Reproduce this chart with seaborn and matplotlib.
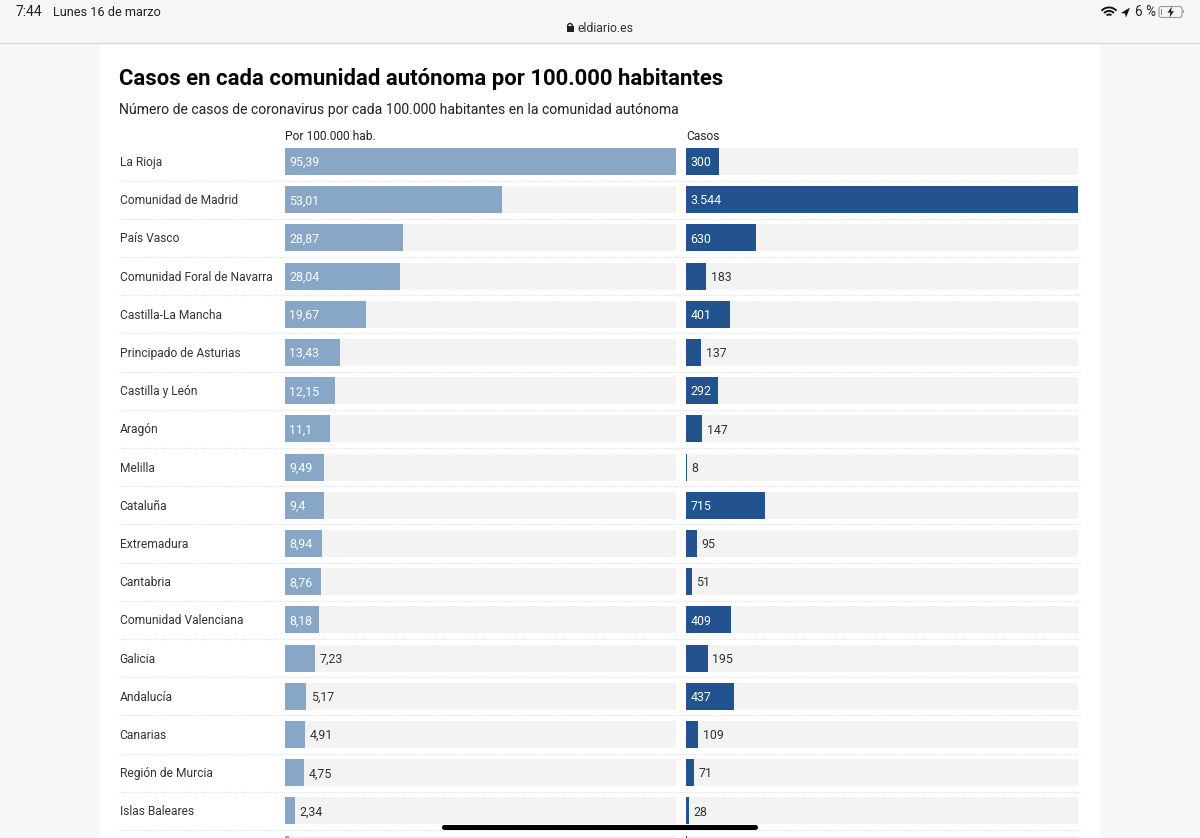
import matplotlib
matplotlib.use("Agg")
import matplotlib.pyplot as plt
from matplotlib.patches import Rectangle, FancyBboxPatch, Polygon, Wedge, Arc
from matplotlib.transforms import ScaledTranslation
import pandas as pd
import seaborn as sns

# the last row is cut off by the screen, its name can't be read
comunidades = ["La Rioja", "Comunidad de Madrid", "País Vasco", "Comunidad Foral de Navarra",
               "Castilla-La Mancha", "Principado de Asturias", "Castilla y León", "Aragón",
               "Melilla", "Cataluña", "Extremadura", "Cantabria", "Comunidad Valenciana",
               "Galicia", "Andalucía", "Canarias", "Región de Murcia", "Islas Baleares", ""]
por_100k = [95.39, 53.01, 28.87, 28.04, 19.67, 13.43, 12.15, 11.1, 9.49, 9.4,
            8.94, 8.76, 8.18, 7.23, 5.17, 4.91, 4.75, 2.34, 1.0]
casos = [300, 3544, 630, 183, 401, 137, 292, 147, 8, 715,
         95, 51, 409, 195, 437, 109, 71, 28, 9]

W, H = 1200, 838
ROW = 38.2
TOP = 142.4


def fmt_dec(v):
    return f"{v:g}".replace(".", ",")


def fmt_miles(v):
    return f"{v:,}".replace(",", ".")


def axes_px(x0, y0, x1, y1, **kw):
    return fig.add_axes([x0 / W, 1 - y1 / H, (x1 - x0) / W, (y1 - y0) / H], **kw)


def draw_column(ax, col, color, fmt, inside_min, header):
    df = pd.DataFrame({"comunidad": comunidades, "valor": col})
    df["tope"] = max(col)
    sns.barplot(data=df, x="tope", y="comunidad", color="#f3f3f3", saturation=1, width=0.707, linewidth=0, ax=ax)
    sns.barplot(data=df, x="valor", y="comunidad", color=color, saturation=1, width=0.707, linewidth=0, ax=ax)
    ax.set_xlim(0, max(col))
    ax.set_ylim(-0.5 + (H - TOP) / ROW, -0.5)
    ax.set_xlabel("")
    ax.set_ylabel("")
    ax.set_xticks([])
    ax.patch.set_alpha(0)
    sns.despine(ax=ax, left=True, bottom=True)
    ax.set_title(header, loc="left", fontsize=8.65, color="#222222", y=1.0, pad=1.6)
    for i, (name, v) in enumerate(zip(comunidades, col)):
        if not name:
            continue
        inside = v >= inside_min
        ax.annotate(fmt(v), xy=(0 if inside else v, i), xytext=(3.2, -0.9), textcoords="offset points",
                    va="center", ha="left", fontsize=8.9,
                    color="white" if inside else "#333333")


sns.set_style("white")
plt.rcParams["font.family"] = ["Roboto", "DejaVu Sans"]

fig = plt.figure(figsize=(12, 8.38), dpi=100)

# page behind the chart
bg = axes_px(0, 0, W, H, zorder=0)
bg.set_xlim(0, W)
bg.set_ylim(H, 0)
bg.axis("off")
bg.add_patch(Rectangle((0, 0), W, H, color="#f8f8f8", lw=0))
bg.add_patch(Rectangle((100, 43), 1000, H - 43, color="white", lw=0))
bg.add_patch(Rectangle((0, 0), W, 43, color="#f6f6f6", lw=0))
bg.plot([0, W], [43.5, 43.5], color="#d6d6d6", lw=1)

bg.text(16, 12, "7:44", fontsize=10, va="center", color="#222222")
bg.text(53, 12, "Lunes 16 de marzo", fontsize=9.15, va="center", color="#222222")
bg.text(578, 28, "eldiario.es", fontsize=8.8, va="center", color="#333333")
bg.add_patch(Rectangle((566.5, 26.5), 7, 6, color="#222222", lw=0))
bg.add_patch(Arc((570, 26.5), 5, 6, theta1=180, theta2=360, color="#222222", lw=1))

bg.text(119, 78.5, "Casos en cada comunidad autónoma por 100.000 habitantes", fontsize=15.9,
        fontweight="bold", va="center", color="#050505")
bg.text(119, 110, "Número de casos de coronavirus por cada 100.000 habitantes en la comunidad autónoma",
        fontsize=10.1, va="center", color="#222222")

# status icons
for r in (11, 7.5, 4):
    bg.add_patch(Wedge((1109, 17.5), r, 222, 318, width=1.9, color="#111111", lw=0))
bg.add_patch(Polygon([[1121, 13], [1130, 7.5], [1126, 17.5], [1125, 13.5]], color="#111111", lw=0))
bg.text(1135, 12, "6 %", fontsize=9.8, va="center", color="#222222")
bg.add_patch(FancyBboxPatch((1159, 6.5), 23, 11, boxstyle="round,pad=0,rounding_size=2.5",
                            fc="none", ec="#999999", lw=0.8))
bg.add_patch(Rectangle((1160.5, 9), 1.2, 6, color="#e06060", lw=0))
bg.add_patch(Rectangle((1183, 10.5), 1.2, 3, color="#999999", lw=0))
bg.add_patch(Polygon([[1172, 6.5], [1167.5, 12.8], [1170.5, 12.3], [1169.5, 17.5], [1174, 11],
                      [1171, 11.5]], color="#111111", lw=0))

# dotted lines between the rows
lines = axes_px(119, TOP, 1082, H, zorder=1)
lines.set_xlim(0, 1)
lines.set_ylim(-0.5 + (H - TOP) / ROW, -0.5)
lines.axis("off")
for i in range(len(comunidades) - 1):
    lines.axhline(i + 0.5, color="#e2e2e2", lw=0.8, ls=(0, (1, 1)))

ax1 = axes_px(285, TOP, 676, H, zorder=2)
draw_column(ax1, por_100k, "#88a7c7", fmt_dec, 8, "Por 100.000 hab.")
ax1.tick_params(axis="y", length=0, pad=119, labelsize=8.65, labelcolor="#333333")
nudge = ScaledTranslation(0, 0.5 / 100, fig.dpi_scale_trans)
for lab in ax1.get_yticklabels():
    lab.set_ha("left")
    lab.set_va("center_baseline")
    lab.set_transform(lab.get_transform() + nudge)

ax2 = axes_px(686, TOP, 1078, H, zorder=2)
draw_column(ax2, casos, "#22538f", fmt_miles, 280, "Casos")
ax2.set_yticks([])

# home bar of the tablet, sits above everything
top = axes_px(0, 0, W, H, zorder=5)
top.set_xlim(0, W)
top.set_ylim(H, 0)
top.axis("off")
top.add_patch(FancyBboxPatch((442, 825), 316, 5, boxstyle="round,pad=0,rounding_size=2.5", color="black", lw=0))

fig.savefig("out.png", dpi=100)
